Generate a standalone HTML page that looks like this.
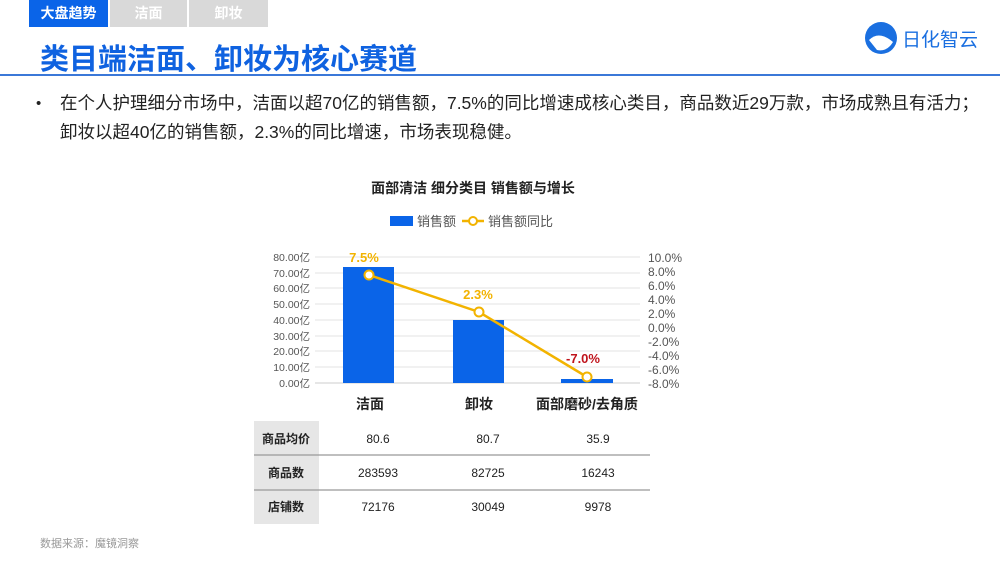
<!DOCTYPE html>
<html><head><meta charset="utf-8"><style>
body{margin:0;width:1000px;height:562px;background:#fff;position:relative;overflow:hidden;font-family:"Liberation Sans","Noto Sans CJK SC",sans-serif}
.tab{position:absolute;top:0;height:27px;line-height:27px;text-align:center;color:#fff;font-size:14px;font-weight:bold}
</style></head><body>
<div class="tab" style="left:29px;width:79px;background:#0a64e8">大盘趋势</div>
<div class="tab" style="left:110px;width:77px;background:#d9d9d9">洁面</div>
<div class="tab" style="left:189px;width:79px;background:#d9d9d9">卸妆</div>
<div style="position:absolute;left:40px;top:36px;font-size:29px;font-weight:bold;color:#0f62e0;white-space:nowrap">类目端洁面、卸妆为核心赛道</div>
<div style="position:absolute;left:0;top:74px;width:1000px;height:2px;background:#3b78d8"></div>
<svg style="position:absolute;left:862px;top:16px" width="138" height="46" viewBox="0 0 138 46">
<circle cx="19" cy="22" r="16" fill="#1a6fe0"/><path d="M7 24 q10 -10 24 2 q-6 10 -16 8z" fill="#fff"/>
<text x="40" y="30" font-size="19" fill="#1a6fe0" font-family="Noto Sans CJK SC,sans-serif">日化智云</text></svg>
<div style="position:absolute;left:36px;top:89px;font-size:15px;color:#222;line-height:29px">•</div>
<div style="position:absolute;left:60px;top:89px;font-size:17.5px;color:#222;line-height:29px;white-space:nowrap">在个人护理细分市场中，洁面以超70亿的销售额，7.5%的同比增速成核心类目，商品数近29万款，市场成熟且有活力；<br>卸妆以超40亿的销售额，2.3%的同比增速，市场表现稳健。</div>
<svg style="position:absolute;left:0;top:0" width="1000" height="562" font-family="Liberation Sans,Noto Sans CJK SC,sans-serif">
<text x="473" y="193" font-size="14" font-weight="bold" text-anchor="middle" fill="#222">面部清洁 细分类目 销售额与增长</text>
<rect x="390" y="216" width="23" height="10" fill="#0a64e8"/><text x="417" y="226" font-size="13" fill="#555">销售额</text>
<line x1="462" y1="221" x2="484" y2="221" stroke="#f2b300" stroke-width="2.5"/><circle cx="473" cy="221" r="4" fill="#fff" stroke="#f2b300" stroke-width="2"/>
<text x="488" y="226" font-size="13" fill="#555">销售额同比</text>
<g stroke="#e3e3e3" stroke-width="1">
<line x1="315" y1="257" x2="640" y2="257"/><line x1="315" y1="273" x2="640" y2="273"/><line x1="315" y1="288" x2="640" y2="288"/><line x1="315" y1="304" x2="640" y2="304"/><line x1="315" y1="320" x2="640" y2="320"/><line x1="315" y1="336" x2="640" y2="336"/><line x1="315" y1="351" x2="640" y2="351"/><line x1="315" y1="367" x2="640" y2="367"/><line x1="315" y1="383" x2="640" y2="383" stroke="#ccc"/></g>
<g font-size="10.5" fill="#555" text-anchor="end">
<text x="310" y="261">80.00亿</text><text x="310" y="277">70.00亿</text><text x="310" y="292">60.00亿</text><text x="310" y="308">50.00亿</text><text x="310" y="324">40.00亿</text><text x="310" y="340">30.00亿</text><text x="310" y="355">20.00亿</text><text x="310" y="371">10.00亿</text><text x="310" y="387">0.00亿</text></g>
<g font-size="12" fill="#555">
<text x="648" y="262">10.0%</text><text x="648" y="276">8.0%</text><text x="648" y="290">6.0%</text><text x="648" y="304">4.0%</text><text x="648" y="318">2.0%</text><text x="648" y="332">0.0%</text><text x="648" y="346">-2.0%</text><text x="648" y="360">-4.0%</text><text x="648" y="374">-6.0%</text><text x="648" y="388">-8.0%</text></g>
<rect x="343" y="267" width="51" height="116" fill="#0a64e8"/>
<rect x="453" y="320" width="51" height="63" fill="#0a64e8"/>
<rect x="561" y="379" width="52" height="4" fill="#0a64e8"/>
<polyline points="369,275 479,312 587,377" fill="none" stroke="#f2b300" stroke-width="2.5"/>
<g fill="#fff" stroke="#f2b300" stroke-width="2"><circle cx="369" cy="275" r="4.5"/><circle cx="479" cy="312" r="4.5"/><circle cx="587" cy="377" r="4.5"/></g>
<g font-size="13" font-weight="bold" text-anchor="middle">
<text x="364" y="262" fill="#f2b300">7.5%</text><text x="478" y="299" fill="#f2b300">2.3%</text><text x="583" y="363" fill="#c0141c">-7.0%</text></g>
<g font-size="14" font-weight="bold" fill="#222" text-anchor="middle">
<text x="370" y="409">洁面</text><text x="479" y="409">卸妆</text><text x="587" y="409">面部磨砂/去角质</text></g>
<rect x="254" y="421" width="65" height="103" fill="#e6e6e6"/>
<line x1="254" y1="455" x2="650" y2="455" stroke="#999" stroke-width="1.2"/>
<line x1="254" y1="490" x2="650" y2="490" stroke="#999" stroke-width="1.2"/>
<g font-size="12" fill="#222" text-anchor="middle">
<text x="286" y="443" font-weight="bold">商品均价</text><text x="378" y="443">80.6</text><text x="488" y="443">80.7</text><text x="598" y="443">35.9</text>
<text x="286" y="477" font-weight="bold">商品数</text><text x="378" y="477">283593</text><text x="488" y="477">82725</text><text x="598" y="477">16243</text>
<text x="286" y="511" font-weight="bold">店铺数</text><text x="378" y="511">72176</text><text x="488" y="511">30049</text><text x="598" y="511">9978</text></g>
<text x="40" y="547" font-size="11" fill="#999">数据来源：魔镜洞察</text>
</svg>
</body></html>
